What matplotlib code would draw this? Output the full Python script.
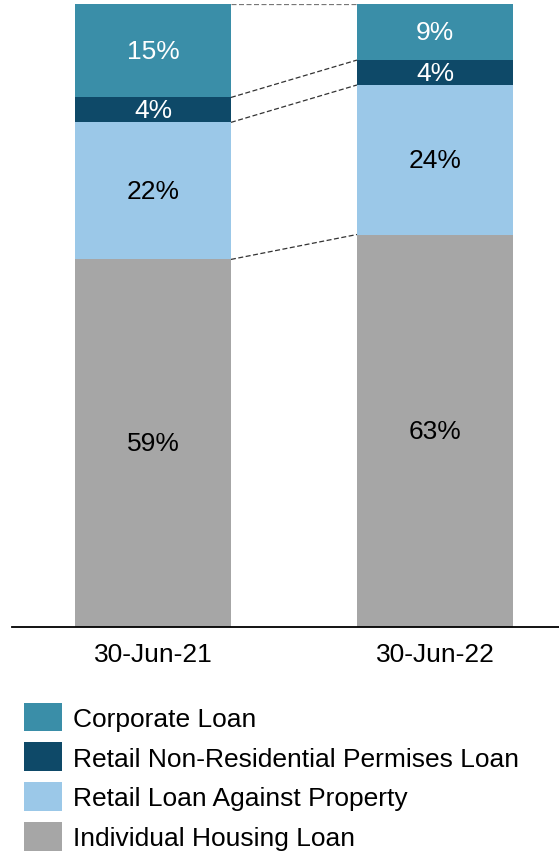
import matplotlib
matplotlib.use("Agg")
import matplotlib.pyplot as plt
import numpy as np

plt.rcParams['font.family'] = ['Liberation Sans', 'DejaVu Sans']

categories = ["30-Jun-21", "30-Jun-22"]
series_names = ["Individual Housing Loan", "Retail Loan Against Property",
                "Retail Non-Residential Permises Loan", "Corporate Loan"]
housing = [59, 63]
lap = [22, 24]
nrp = [4, 4]
corporate = [15, 9]
colors = ["#A6A6A6", "#9BC8E8", "#0E4968", "#3A8EA8"]
text_colors = ["black", "black", "white", "white"]

series = [housing, lap, nrp, corporate]
FS = 19

fig = plt.figure(figsize=(5.59, 8.54), dpi=100)
ax = fig.add_axes([12/559, (854-628)/854, 547/559, 623/854])

x = np.arange(len(categories))
width = 0.553
bottoms = np.zeros(len(categories))
handles = []
cum_tops = []
for vals, col, tcol, name in zip(series, colors, text_colors, series_names):
    vals = np.array(vals, dtype=float)
    bars = ax.bar(x, vals, width, bottom=bottoms, color=col, label=name, zorder=2)
    handles.append(bars)
    for xi, v, b in zip(x, vals, bottoms):
        ax.text(xi, b + v / 2, f"{int(v)}%", ha="center", va="center",
                color=tcol, fontsize=FS, zorder=3)
    bottoms = bottoms + vals
    cum_tops.append(bottoms.copy())

# connector lines
for i, tops in enumerate(cum_tops):
    lc = "#777777" if i == len(cum_tops) - 1 else "#333333"
    ax.plot([x[0] + width / 2, x[1] - width / 2], [tops[0], tops[1]],
            linestyle=(0, (4, 2)), color=lc, linewidth=0.9, zorder=1)

ax.set_xlim(-0.5, 1.44)
ax.set_ylim(0, 100)
for s in ["top", "right", "left"]:
    ax.spines[s].set_visible(False)
ax.spines["bottom"].set_linewidth(1.3)
ax.spines["bottom"].set_color("black")
ax.set_yticks([])
ax.set_xticks(x)
ax.set_xticklabels(categories, fontsize=FS)
ax.tick_params(axis="x", length=0, pad=11)

leg = fig.legend(handles[::-1], series_names[::-1], loc="upper left",
                 bbox_to_anchor=(13/559, 1 - 693/854), frameon=False,
                 fontsize=FS, handlelength=1.44, handleheight=1.3,
                 handletextpad=0.45, labelspacing=0.42, borderaxespad=0)

fig.savefig("out.png", dpi=100)
